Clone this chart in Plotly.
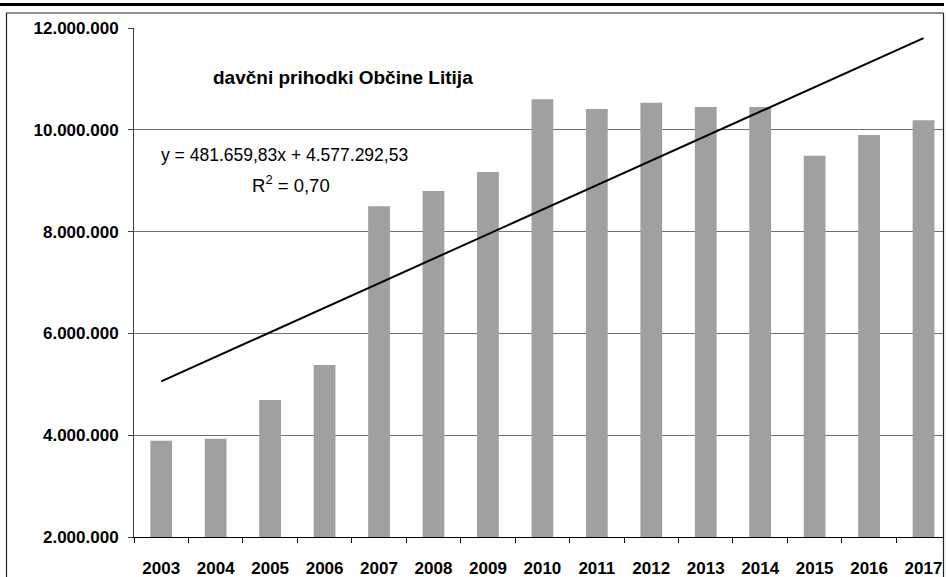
import plotly.graph_objects as go

years = ["2003", "2004", "2005", "2006", "2007", "2008", "2009", "2010",
         "2011", "2012", "2013", "2014", "2015", "2016", "2017"]
revenue = [3890000, 3930000, 4690000, 5380000, 8500000, 8800000, 9170000, 10600000,
           10410000, 10530000, 10450000, 10450000, 9490000, 9900000, 10190000]
trend_years = ["2003", "2017"]
trend_values = [5058952, 11802190]
title_text = "davčni prihodki Občine Litija"
equation_text = "y = 481.659,83x + 4.577.292,53"
r2_text = "R<sup>2</sup> = 0,70"

W, H = 946, 577
L, R, T, B = 134, 3, 28, 40
PW = W - L - R
PH = H - T - B


def px(x):
    return (x - L) / PW


def py(y):
    return (H - B - y) / PH


FONT = "Arial, 'Liberation Sans', sans-serif"

fig = go.Figure()
fig.add_trace(go.Bar(x=years, y=revenue, marker=dict(color="#a0a0a0", line=dict(width=0)),
                     showlegend=False, hoverinfo="x+y"))
fig.add_trace(go.Scatter(x=trend_years, y=trend_values, mode="lines",
                         line=dict(color="black", width=2), showlegend=False))

fig.update_layout(
    width=W, height=H,
    margin=dict(l=L, r=R, t=T, b=B, pad=0, autoexpand=False),
    paper_bgcolor="white", plot_bgcolor="white",
    separators=",.",
    bargap=0.6,
    font=dict(family=FONT, size=17, color="black"),
    xaxis=dict(type="category", range=[-0.5, -0.5 + PW / 54.45], automargin=False,
               showline=True, linecolor="black", linewidth=1,
               ticks="outside", tickson="boundaries", ticklen=5, tickcolor="black",
               showgrid=False, tickfont=dict(family=FONT, size=17, color="black", weight="bold"),
               ticklabelstandoff=16),
    yaxis=dict(range=[2000000, 12000000], dtick=2000000, tick0=0, tickformat=",d", automargin=False,
               showline=True, linecolor="#404040", linewidth=1,
               ticks="outside", ticklen=5, tickcolor="#404040",
               showgrid=True, gridcolor="#707070", gridwidth=1, zeroline=False,
               tickfont=dict(family=FONT, size=17, color="black", weight="bold"),
               ticklabelstandoff=6),
    annotations=[
        dict(text="<b>" + title_text + "</b>", xref="paper", yref="paper",
             x=px(343), y=py(77), showarrow=False, xanchor="center", yanchor="middle",
             font=dict(family=FONT, size=19, color="black")),
        dict(text=equation_text, xref="paper", yref="paper",
             x=px(284.5), y=py(155), showarrow=False, xanchor="center", yanchor="middle",
             font=dict(family=FONT, size=17.5, color="black")),
        dict(text=r2_text, xref="paper", yref="paper",
             x=px(291), y=py(184), showarrow=False, xanchor="center", yanchor="middle",
             font=dict(family=FONT, size=18.5, color="black")),
    ],
    shapes=[
        dict(type="line", xref="paper", yref="paper", x0=px(0), x1=px(944), y0=py(4.5), y1=py(4.5),
             line=dict(color="black", width=3)),
        dict(type="line", xref="paper", yref="paper", x0=px(6.5), x1=px(943.5), y0=py(13), y1=py(13),
             line=dict(color="#202020", width=1.2)),
        dict(type="line", xref="paper", yref="paper", x0=px(6.5), x1=px(6.5), y0=py(13), y1=py(580),
             line=dict(color="#202020", width=1.2)),
        dict(type="line", xref="paper", yref="paper", x0=px(943.5), x1=px(943.5), y0=py(13), y1=py(580),
             line=dict(color="#202020", width=1.2)),
    ],
)

fig.write_html("out.html", config={"displayModeBar": False},
               post_script="document.body.style.margin='0';document.body.style.padding='0';")
